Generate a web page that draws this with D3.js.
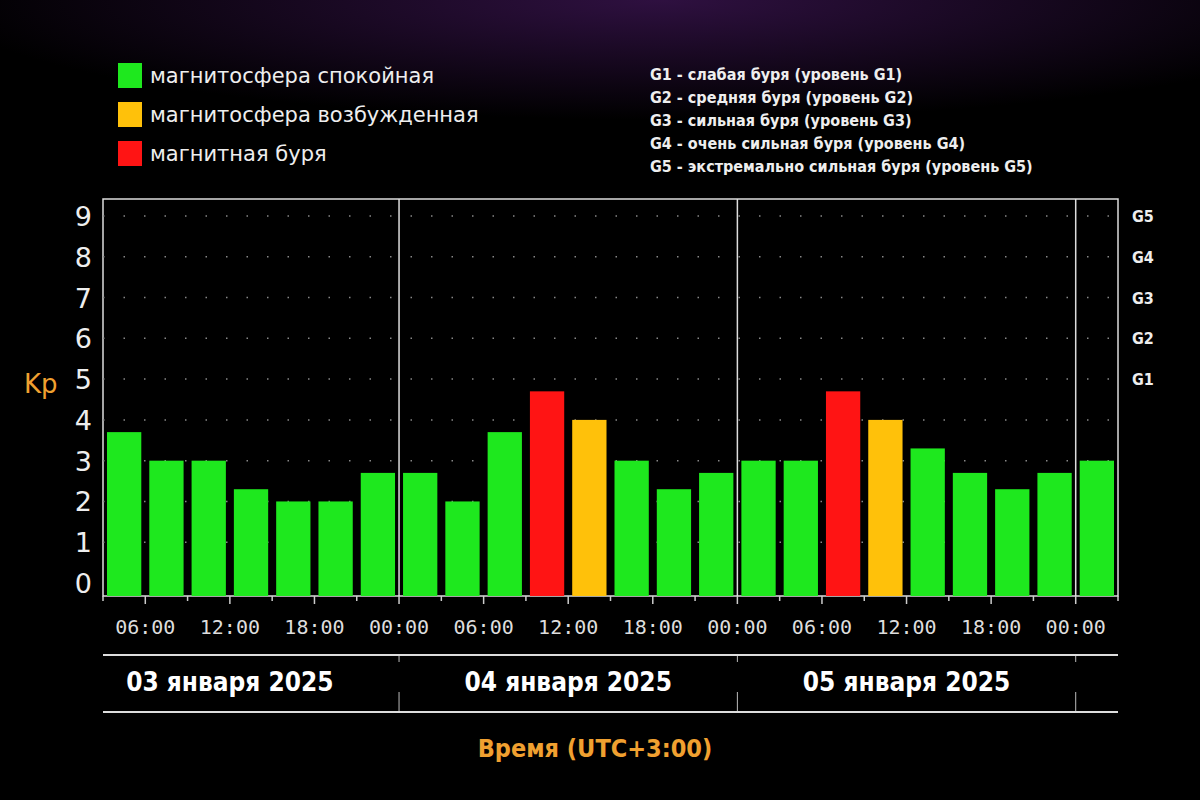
<!DOCTYPE html>
<html><head><meta charset="utf-8">
<script src="https://cdn.jsdelivr.net/npm/d3@7"></script>
<style>body{margin:0;background:#000}svg{display:block}</style>
</head><body>
<svg id="c" width="1200" height="800"></svg>
<script>
// Kp index, 3-hour bins, starting 03 Jan 03:00 (UTC+3)
var kpValues = [3.7,3,3,2.3,2,2,2.7, 2.7,2,3.7,4.7,4,3,2.3,2.7, 3,3,4.7,4,3.3,2.7,2.3,2.7, 3];
var kpLevels = ["q","q","q","q","q","q","q", "q","q","q","s","a","q","q","q", "q","q","s","a","q","q","q","q", "q"];
var dayLabels = ["03 января 2025","04 января 2025","05 января 2025"];
var hourLabels = ["06:00","12:00","18:00","00:00"];
var gLabels = ["G1","G2","G3","G4","G5"];
var legendLeft = [["q","магнитосфера спокойная"],["a","магнитосфера возбужденная"],["s","магнитная буря"]];
var legendRight = ["G1 - слабая буря (уровень G1)","G2 - средняя буря (уровень G2)","G3 - сильная буря (уровень G3)","G4 - очень сильная буря (уровень G4)","G5 - экстремально сильная буря (уровень G5)"];
var colors = {q:"#1ee81e", a:"#ffc10a", s:"#ff1414"};

var svg = d3.select("#c");
var defs = svg.append("defs");
var rg = defs.append("radialGradient").attr("id","glow").attr("cx","0.55").attr("cy","0").attr("r","0.6");
rg.append("stop").attr("offset","0").attr("stop-color","#3a1450");
rg.append("stop").attr("offset","1").attr("stop-color","#000");
svg.append("rect").attr("width",1200).attr("height",800).attr("fill","#000");
svg.append("rect").attr("width",1200).attr("height",200).attr("fill","url(#glow)").attr("opacity",0.8);

// hours from 03 Jan 00:00
var x = d3.scaleLinear().domain([3, 75]).range([103, 1118]);
var y = d3.scaleLinear().domain([0, 9]).range([583, 216]);
var plotBase = 596, plotTop = 199;

// plot frame
svg.append("rect").attr("x",103).attr("y",plotTop).attr("width",1015).attr("height",plotBase-plotTop)
  .attr("fill","#000").attr("stroke","#ddd").attr("stroke-width",1.5);

// dotted grid
d3.range(1,10).forEach(function(v){
  svg.append("line").attr("x1",103).attr("x2",1118).attr("y1",y(v)).attr("y2",y(v))
    .attr("stroke","#888").attr("stroke-width",1.5).attr("stroke-dasharray","1.5,19");
});

// bars
svg.selectAll("rect.bar").data(kpValues).enter().append("rect").attr("class","bar")
  .attr("x",function(d,i){return x(3+i*3)+4;})
  .attr("width",function(d,i){return x(6)-x(3)-8;})
  .attr("y",function(d){return y(d);})
  .attr("height",function(d){return plotBase-y(d);})
  .attr("fill",function(d,i){return colors[kpLevels[i]];});

// day separators
[24,48,72].forEach(function(h){
  svg.append("line").attr("x1",x(h)).attr("x2",x(h)).attr("y1",plotTop).attr("y2",plotBase)
    .attr("stroke","#ddd").attr("stroke-width",1.5);
  svg.append("line").attr("x1",x(h)).attr("x2",x(h)).attr("y1",plotBase).attr("y2",712)
    .attr("stroke","#bbb").attr("stroke-width",1).attr("stroke-dasharray","0,60,6,30,40");
});

// y axis labels
d3.range(0,10).forEach(function(v){
  svg.append("text").attr("x",92).attr("y",y(v)+10).attr("text-anchor","end")
    .attr("fill","#eee").attr("font-family","DejaVu Sans").attr("font-size",27).text(v);
});
gLabels.forEach(function(g,i){
  svg.append("text").attr("x",1132).attr("y",y(5+i)+6).attr("fill","#eee")
    .attr("font-family","DejaVu Sans Condensed").attr("font-weight","bold").attr("font-size",16).text(g);
});
svg.append("text").attr("x",24).attr("y",393).attr("fill","#f0a030")
  .attr("font-family","DejaVu Sans").attr("font-size",26).text("Kp");

// x ticks
d3.range(3,76,3).forEach(function(h){
  svg.append("line").attr("x1",x(h)).attr("x2",x(h)).attr("y1",plotBase).attr("y2",plotBase+(h%6===0?8:5))
    .attr("stroke","#ccc").attr("stroke-width",1.5);
});
d3.range(6,75,6).forEach(function(h){
  svg.append("text").attr("x",x(h)).attr("y",634).attr("text-anchor","middle").attr("fill","#ddd")
    .attr("font-family","DejaVu Sans Mono").attr("font-size",20).text(hourLabels[(h/6-1)%4]);
});

// date band
svg.append("line").attr("x1",103).attr("x2",1118).attr("y1",655).attr("y2",655).attr("stroke","#ddd").attr("stroke-width",2);
svg.append("line").attr("x1",103).attr("x2",1118).attr("y1",712).attr("y2",712).attr("stroke","#ddd").attr("stroke-width",2);
dayLabels.forEach(function(d,i){
  svg.append("text").attr("x",x(24*i+12)).attr("y",691).attr("text-anchor","middle").attr("fill","#fff")
    .attr("font-family","DejaVu Sans Condensed").attr("font-weight","bold").attr("font-size",26).text(d);
});
svg.append("text").attr("x",595).attr("y",757).attr("text-anchor","middle").attr("fill","#f0a030")
  .attr("font-family","DejaVu Sans Condensed").attr("font-weight","bold").attr("font-size",25).text("Время (UTC+3:00)");

// legends
legendLeft.forEach(function(l,i){
  svg.append("rect").attr("x",118).attr("y",63+i*39).attr("width",24).attr("height",25).attr("fill",colors[l[0]]);
  svg.append("text").attr("x",150).attr("y",83+i*39).attr("fill","#eee")
    .attr("font-family","DejaVu Sans").attr("font-size",21).text(l[1]);
});
legendRight.forEach(function(t,i){
  svg.append("text").attr("x",650).attr("y",80+i*23).attr("fill","#eee")
    .attr("font-family","DejaVu Sans Condensed").attr("font-weight","bold").attr("font-size",16).text(t);
});
</script>
</body></html>
